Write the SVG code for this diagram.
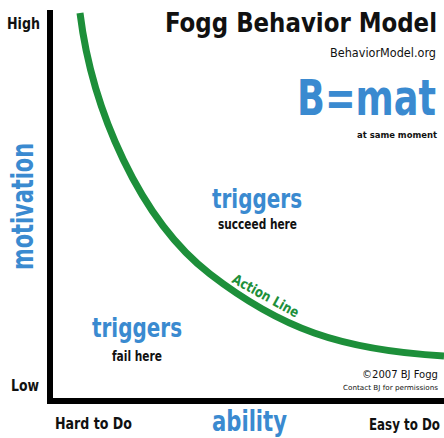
<svg xmlns="http://www.w3.org/2000/svg" width="444" height="438" viewBox="0 0 444 438">
  <style>
    text { font-family: "Liberation Sans Narrow", "DejaVu Sans Condensed", "Liberation Sans", sans-serif; font-weight: bold; }
    .blk { fill: #111111; }
    .blue { fill: #3a8ad0; }
    .green { fill: #1d8f3a; }
    .reg { font-weight: normal; }
    .axis { stroke: #000000; stroke-width: 6; fill: none; }
    .action { stroke: #1d8f3a; stroke-width: 7; fill: none; stroke-linecap: butt; }
  </style>
  <rect width="444" height="438" fill="#ffffff"/>

  <!-- axes -->
  <g id="axes">
    <path class="axis" d="M50,10 V401 H444"/>
  </g>

  <!-- action line curve -->
  <g id="connectors">
    <path class="action" d="M80,13 C92,110 140,220 210,274 S340,350 444,356"/>
  </g>

  <!-- heading -->
  <g id="title">
    <text class="blk" x="165" y="32" font-size="27" textLength="272" lengthAdjust="spacingAndGlyphs">Fogg Behavior Model</text>
    <text class="blk reg" x="330" y="57" font-size="13" textLength="106" lengthAdjust="spacingAndGlyphs">BehaviorModel.org</text>
  </g>

  <g id="formula">
    <text class="blue" x="297" y="115" font-size="49" textLength="139" lengthAdjust="spacingAndGlyphs">B=mat</text>
    <text class="blk" x="357" y="138" font-size="8" textLength="80" lengthAdjust="spacingAndGlyphs">at same moment</text>
  </g>

  <!-- axis labels -->
  <g id="label-high">
    <text class="blk" x="7" y="29" font-size="15" textLength="33" lengthAdjust="spacingAndGlyphs">High</text>
  </g>
  <g id="label-low">
    <text class="blk" x="11" y="391" font-size="16" textLength="28" lengthAdjust="spacingAndGlyphs">Low</text>
  </g>
  <g id="label-motivation">
    <text class="blue" transform="translate(33,270) rotate(-90)" x="0" y="0" font-size="30" textLength="127" lengthAdjust="spacingAndGlyphs">motivation</text>
  </g>
  <g id="label-hard">
    <text class="blk" x="55" y="429" font-size="16" textLength="77" lengthAdjust="spacingAndGlyphs">Hard to Do</text>
  </g>
  <g id="label-ability">
    <text class="blue" x="212" y="431" font-size="29" textLength="75" lengthAdjust="spacingAndGlyphs">ability</text>
  </g>
  <g id="label-easy">
    <text class="blk" x="369" y="430" font-size="16" textLength="71" lengthAdjust="spacingAndGlyphs">Easy to Do</text>
  </g>

  <!-- regions -->
  <g id="region-succeed">
    <text class="blue" x="212" y="208" font-size="26" textLength="90" lengthAdjust="spacingAndGlyphs">triggers</text>
    <text class="blk" x="218" y="229" font-size="14" textLength="79" lengthAdjust="spacingAndGlyphs">succeed here</text>
  </g>
  <g id="region-fail">
    <text class="blue" x="92" y="337" font-size="26" textLength="90" lengthAdjust="spacingAndGlyphs">triggers</text>
    <text class="blk" x="112" y="361" font-size="14" textLength="50" lengthAdjust="spacingAndGlyphs">fail here</text>
  </g>
  <g id="action-label">
    <text class="green" transform="translate(231,282) rotate(29)" x="0" y="0" font-size="14" textLength="74" lengthAdjust="spacingAndGlyphs">Action Line</text>
  </g>

  <!-- credits -->
  <g id="credits">
    <text class="blk reg" x="362" y="378" font-size="11" textLength="76" lengthAdjust="spacingAndGlyphs">©2007 BJ Fogg</text>
    <text class="blk reg" x="343" y="390" font-size="7" textLength="95" lengthAdjust="spacingAndGlyphs">Contact BJ for permissions</text>
  </g>
</svg>
